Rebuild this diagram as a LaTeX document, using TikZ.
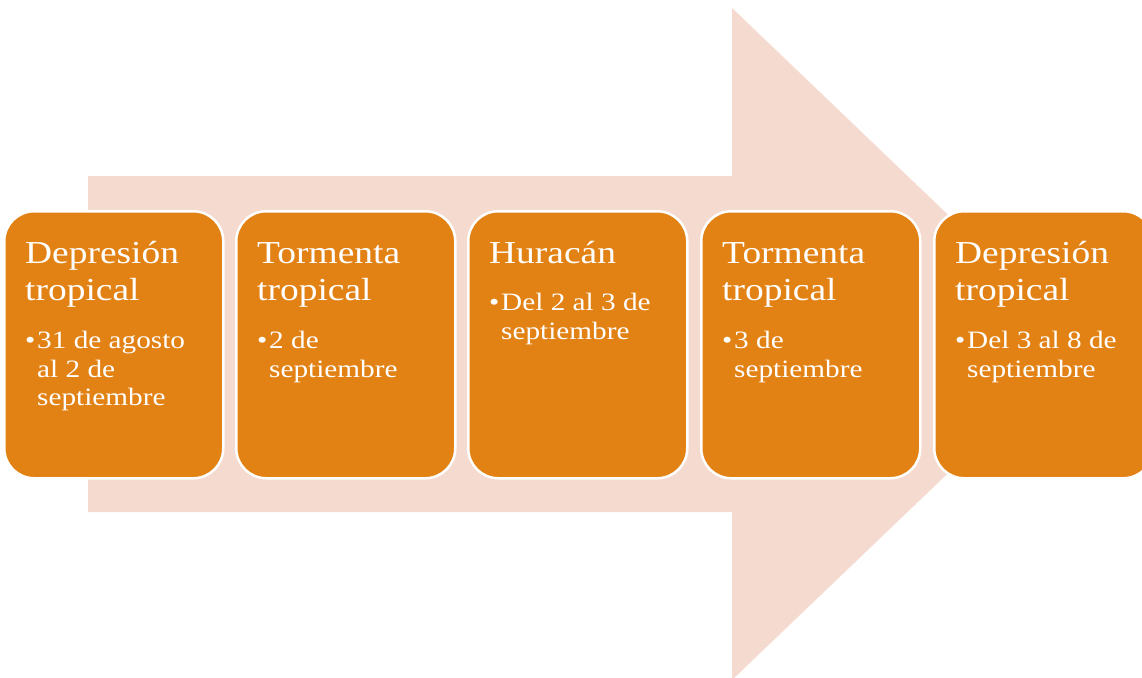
\documentclass[tikz,border=0pt]{standalone}
\usepackage{fontspec}
\setmainfont{Liberation Serif}[FakeStretch=1.17]
\definecolor{boxor}{RGB}{227,130,20}
\definecolor{arrowpk}{RGB}{245,218,207}
\begin{document}
\begin{tikzpicture}[x=1pt,y=-1pt,
 stagebox/.style={draw=white,line width=2.5pt,fill=boxor,rounded corners=30pt,anchor=north west,minimum width=219pt,minimum height=267pt,inner sep=0pt},
 titletxt/.style={anchor=north west,inner sep=0pt,text=white,align=left,font=\fontsize{32}{37.5}\selectfont},
 bullettxt/.style={anchor=north west,inner sep=0pt,text=white,align=left,font=\fontsize{25}{28.8}\selectfont}]
\useasboundingbox (0,0) rectangle (1142,677);
\clip (0,0) rectangle (1142,677);
\fill[arrowpk] (88,176) -- (732,176) -- (732,8) -- (1083,344) -- (732,680) -- (732,512) -- (88,512) -- cycle;
% boxes
\node[stagebox] (b1) at (3,210) {};
\node[stagebox] (b2) at (235,210) {};
\node[stagebox] (b3) at (467,210) {};
\node[stagebox] (b4) at (700,210) {};
\node[stagebox] (b5) at (933,210) {};
% titles
\node[titletxt] (t1) at (25,235) {\rule{0pt}{28pt}Depresión\\tropical};
\node[titletxt] (t2) at (257,235) {\rule{0pt}{28pt}Tormenta\\tropical};
\node[titletxt] (t3) at (489,235) {\rule{0pt}{28pt}Huracán};
\node[titletxt] (t4) at (722,235) {\rule{0pt}{28pt}Tormenta\\tropical};
\node[titletxt] (t5) at (955,235) {\rule{0pt}{28pt}Depresión\\tropical};
% bullets
\node[bullettxt] (d1) at (25,326) {\rule{0pt}{22pt}\makebox[12pt][l]{•}31 de agosto\\\hspace*{12pt}al 2 de\\\hspace*{12pt}septiembre};
\node[bullettxt] (d2) at (257,326) {\rule{0pt}{22pt}\makebox[12pt][l]{•}2 de\\\hspace*{12pt}septiembre};
\node[bullettxt] (d3) at (489,288) {\rule{0pt}{22pt}\makebox[12pt][l]{•}Del 2 al 3 de\\\hspace*{12pt}septiembre};
\node[bullettxt] (d4) at (722,326) {\rule{0pt}{22pt}\makebox[12pt][l]{•}3 de\\\hspace*{12pt}septiembre};
\node[bullettxt] (d5) at (955,326) {\rule{0pt}{22pt}\makebox[12pt][l]{•}Del 3 al 8 de\\\hspace*{12pt}septiembre};
\end{tikzpicture}
\end{document}
